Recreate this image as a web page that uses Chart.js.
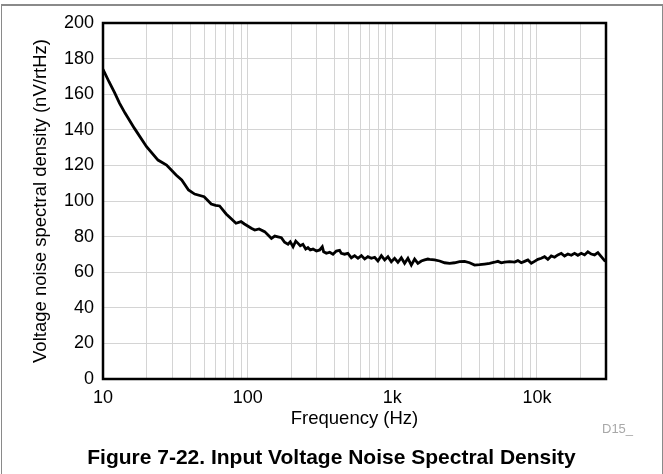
<!DOCTYPE html>
<html>
<head>
<meta charset="utf-8">
<script src="https://cdn.jsdelivr.net/npm/chart.js@4/dist/chart.umd.min.js"></script>
<style>
    body { margin: 0; background: #fff; font-family: "Liberation Sans", Arial, sans-serif; }
    #page { position: relative; width: 663px; height: 474px; overflow: hidden; }
    #frame { position: absolute; left: 1px; top: 4px; width: 660px; height: 480px;
        border-top: 2px solid #8a8a8a; border-left: 1px solid #8a8a8a; border-right: 1px solid #8a8a8a; }
    #chart { position: absolute; left: 0; top: 0; }
    #code { position: absolute; left: 602px; top: 421px; font-size: 13px; color: #a8a8a8; }
    #caption { position: absolute; left: 0; width: 663px; top: 445px; text-align: center;
        font-size: 21px; font-weight: bold; color: #000; }
</style>
</head>
<body>
<div id="page">
    <div id="frame"></div>
    <canvas id="chart" width="663" height="474"></canvas>
    <div id="code">D15_</div>
    <div id="caption">Figure 7-22. Input Voltage Noise Spectral Density</div>
</div>
<script>
// frequency (Hz) and noise density (nV/rtHz)
const freq = [10, 11, 12, 13, 14.2, 16.5, 20, 24, 27.5, 32, 35, 39, 43, 50, 56, 60, 64, 71, 77, 83, 90, 95, 106, 112, 120, 131, 140,
    146, 154, 162, 171, 180, 190, 197, 206, 215, 223, 231, 241, 252, 261, 271, 283, 299, 315, 328, 335, 350, 369, 389, 410, 432, 444,
    468, 493, 521, 549, 579, 611, 644, 678, 716, 755, 795, 840, 885, 933, 984, 1037, 1093, 1154, 1216, 1282, 1353, 1426, 1503, 1587,
    1672, 1762, 1810, 1961, 2123, 2299, 2489, 2696, 2918, 3161, 3421, 3706, 4012, 4345, 4704, 5093, 5369, 5667, 5973, 6466, 7003,
    7379, 7790, 8210, 8652, 9134, 9625, 10144, 10708, 11285, 11893, 12554, 13231, 13944, 14720, 15512, 16350, 17258, 18190, 19170,
    20240, 21330, 22480, 23730, 25000, 26360, 27820, 29320, 30000];
const noise = [174, 167, 161, 155, 149.4, 140.8, 130.5, 123, 120.2, 114.6, 111.8, 106.2, 103.9, 102.4, 98.3, 97.5, 97.2, 92.7, 90, 87.5, 88.4, 87.1, 84.7, 83.7, 84.3, 82.8, 80.5,
    79.0, 80.3, 79.9, 79.4, 76.8, 75.7, 77.1, 74.3, 77.5, 76.2, 74.9, 75.7, 73.0, 73.8, 72.5, 73.0, 71.9, 72.5, 74.3, 71.5, 70.6, 71.2, 70.1, 71.9, 72.3, 70.6,
    70.1, 70.6, 68.1, 69.3, 67.8, 69.3, 67.4, 68.7, 67.8, 68.4, 66.3, 69.3, 66.9, 68.7, 65.9, 67.8, 65.6, 68.1, 65.0, 67.8, 64.0, 67.4, 65.0, 66.3,
    66.9, 67.4, 67.2, 66.9, 66.3, 65.3, 65.0, 65.3, 65.9, 66.1, 65.3, 64.0, 64.2, 64.6, 65.0, 65.6, 66.1, 65.3, 65.7, 65.9, 65.7,
    66.5, 65.3, 66.1, 66.9, 65.0, 66.1, 67.2, 67.8, 68.7, 67.2, 69.1, 68.4, 69.7, 70.6, 69.1, 70.2, 69.5, 70.6, 69.5,
    70.6, 69.7, 71.5, 70.2, 69.7, 71.0, 68.7, 66.5, 66.9];

const xDecades = [10, 100, 1000, 10000];
const xSteps = [1, 2, 3, 4, 5, 6, 7, 8, 9];
const xTickLabels = {10: "10", 100: "100", 1000: "1k", 10000: "10k"};

let xGridValues = [];
xDecades.forEach(d => xSteps.forEach(s => { if (d * s <= 30000) xGridValues.push(d * s); }));
xGridValues.push(30000);

const plotFrame = {
    id: "plotFrame",
    afterDraw(chart) {
        const {ctx, chartArea: a} = chart;
        ctx.save();
        ctx.strokeStyle = "#000";
        ctx.lineWidth = 2.5;
        ctx.strokeRect(a.left, a.top, a.right - a.left, a.bottom - a.top);
        ctx.restore();
    }
};

new Chart("chart", {
    type: "line",
    data: {
        datasets: [{
            data: freq.map((f, i) => ({x: f, y: noise[i]})),
            borderColor: "#000",
            borderWidth: 2.8,
            pointRadius: 0,
            tension: 0
        }]
    },
    options: {
        responsive: false,
        animation: false,
        layout: {padding: {left: 30, right: 57, top: 23, bottom: 0}},
        plugins: {legend: {display: false}, tooltip: {enabled: false}},
        scales: {
            x: {
                type: "logarithmic",
                min: 10,
                max: 30000,
                afterBuildTicks: s => { s.ticks = xGridValues.map(v => ({value: v})); },
                afterFit: s => { s.height = 95; },
                grid: {color: "#d4d4d4", lineWidth: 1, drawTicks: false},
                border: {display: false},
                ticks: {
                    autoSkip: false, maxRotation: 0, padding: 8, color: "#000",
                    font: {family: "Liberation Sans", size: 18},
                    callback: v => xTickLabels[v] || ""
                },
                title: {
                    display: true, text: "Frequency (Hz)", color: "#000",
                    font: {family: "Liberation Sans", size: 18.5},
                    padding: {top: 0, bottom: 44}
                }
            },
            y: {
                min: 0,
                max: 200,
                afterFit: s => { s.width = 73; },
                grid: {color: "#d4d4d4", lineWidth: 1, drawTicks: false},
                border: {display: false},
                ticks: {
                    stepSize: 10, padding: 9, color: "#000",
                    font: {family: "Liberation Sans", size: 18},
                    callback: v => (v % 20 === 0 ? String(v) : "")
                },
                title: {
                    display: true, text: "Voltage noise spectral density (nV/rtHz)", color: "#000",
                    font: {family: "Liberation Sans", size: 18.5},
                    padding: {top: 0, bottom: 0}
                }
            }
        }
    },
    plugins: [plotFrame]
});
</script>
</body>
</html>
